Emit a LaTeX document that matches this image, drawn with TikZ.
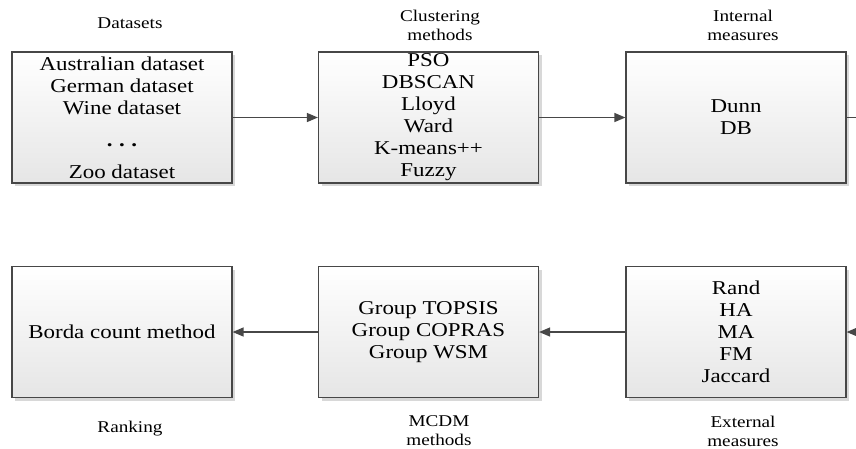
\documentclass[tikz,border=0pt]{standalone}
\usepackage{fontspec}
\setmainfont{Liberation Serif}[FakeStretch=1.17]
\usetikzlibrary{arrows.meta,shadows}
\begin{document}
\begin{tikzpicture}[x=1pt,y=-1pt,
  box/.style={draw=black!72,line width=1.2pt,top color=white,bottom color=black!10,
    minimum width=220pt,minimum height=131pt,inner sep=0pt,align=center,
    font=\fontsize{19.6}{22}\selectfont,
    drop shadow={shadow xshift=3pt,shadow yshift=-3pt,fill=black!30,opacity=0.5}},
  lbl/.style={align=center,font=\fontsize{16.4}{19}\selectfont,inner sep=0pt},
  conn/.style={draw=black!72,line width=1.3pt,-{Triangle[length=11pt,width=9pt]}}]
\clip (0,0) rectangle (856,448);
\fill[white] (0,0) rectangle (856,448);
% top row
\node[box] (data) at (122,117.5) {Australian dataset\\German dataset\\Wine dataset\\[10pt]\textbf{.\,\,.\,\,.}\\[10pt]Zoo dataset};
\node[box] (clust) at (428.5,117.5) {PSO\\DBSCAN\\Lloyd\\Ward\\K-means++\\Fuzzy};
\node[box] (intm) at (736,117.5) {Dunn\\DB};
% bottom row
\node[box] (borda) at (122,332) {Borda count method};
\node[box] (mcdm) at (428.5,332) {Group TOPSIS\\Group COPRAS\\Group WSM};
\node[box] (extm) at (736,332) {Rand\\HA\\MA\\FM\\Jaccard};
% labels
\node[lbl] (l1) at (130,23) {Datasets};
\node[lbl] (l2) at (440,25) {Clustering\\methods};
\node[lbl] (l3) at (743,25) {Internal\\measures};
\node[lbl] (l4) at (130,429) {Ranking};
\node[lbl] (l5) at (439,431) {MCDM\\methods};
\node[lbl] (l6) at (743,431) {External\\measures};
% connectors
\coordinate (rt) at (875,117.5);
\draw[conn] (data.east) -- (clust.west);
\draw[conn] (clust.east) -- (intm.west);
\draw[conn] (intm.east) -- (rt) |- (extm.east);
\draw[conn] (extm.west) -- (mcdm.east);
\draw[conn] (mcdm.west) -- (borda.east);
\end{tikzpicture}
\end{document}
